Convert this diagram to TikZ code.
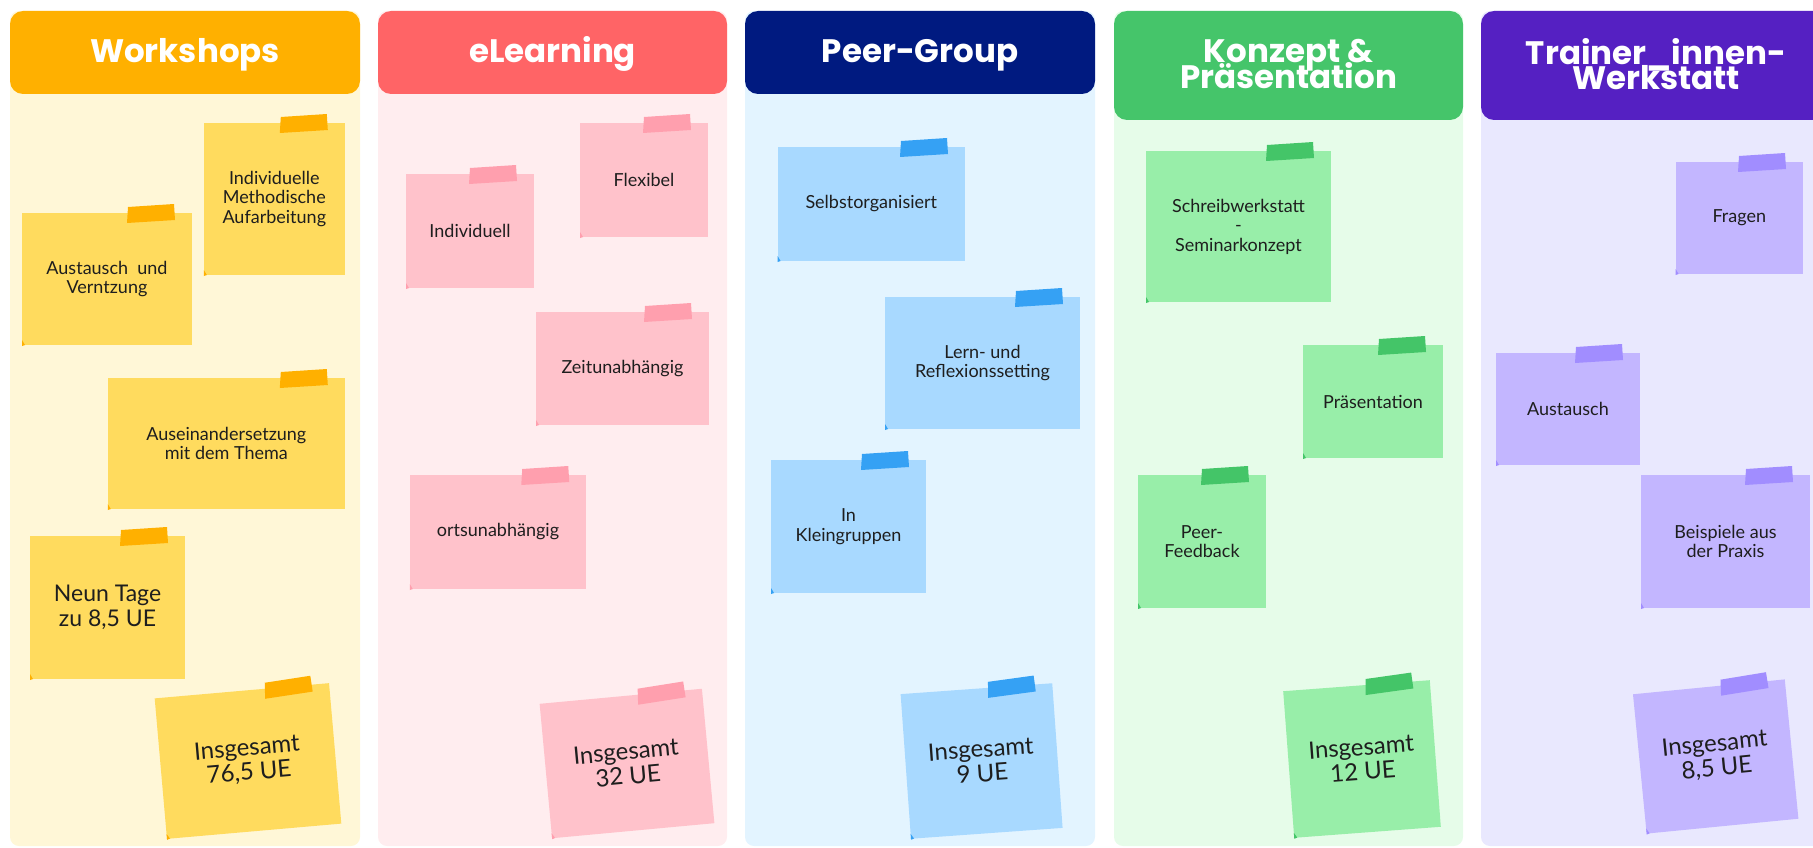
\documentclass[tikz,border=0pt]{standalone}
\usepackage{fontspec}
\setmainfont{Lato}
\newfontfamily\headfamily{Poppins}
\usepackage{tikz}
\lineskiplimit=-100pt

\definecolor{notetext}{HTML}{1E1E1E}
\definecolor{yellowhead}{HTML}{FFB000}
\definecolor{yellowbody}{HTML}{FFF7D7}
\definecolor{yellownote}{HTML}{FFDB5E}
\definecolor{yellowtape}{HTML}{FFB000}
\definecolor{pinkhead}{HTML}{FF6466}
\definecolor{pinkbody}{HTML}{FFEDEF}
\definecolor{pinknote}{HTML}{FFC2CB}
\definecolor{pinktape}{HTML}{FF9FAE}
\definecolor{bluehead}{HTML}{001A80}
\definecolor{bluebody}{HTML}{E3F4FF}
\definecolor{bluenote}{HTML}{A8D9FF}
\definecolor{bluetape}{HTML}{35A1F4}
\definecolor{greenhead}{HTML}{45C56A}
\definecolor{greenbody}{HTML}{E6FCE9}
\definecolor{greennote}{HTML}{98EEA9}
\definecolor{greentape}{HTML}{44C568}
\definecolor{violethead}{HTML}{5520C2}
\definecolor{violetbody}{HTML}{E9E8FE}
\definecolor{violetnote}{HTML}{C3B6FF}
\definecolor{violettape}{HTML}{A18DFF}

\tikzset{
  colbody/.style={rounded corners=9pt},
  colhead/.style={rounded corners=13pt},
  headtext/.style={text=white, align=center, font=\headfamily\bfseries\fontsize{32.5}{25.6}\selectfont},
  postit/.style={inner sep=0pt, align=center, text=notetext, font=\fontsize{18}{19.5}\selectfont},
  bignote/.style={font=\fontsize{23}{24.5}\selectfont},
  sumnote/.style={font=\fontsize{24}{24.5}\selectfont},
}

% name, cx, cy, width, height, angle, colour, extra style, text
\newcommand{\stickynote}[9]{%
  \begin{scope}[shift={(#2,#3)}, rotate=#6]
    \fill[#7note] ({-#4/2},{-#5/2}) rectangle ({#4/2},{#5/2});
    \fill[#7tape] ({#4/2-64},{-#5/2-6}) -- ({#4/2-18},{-#5/2-9}) -- ({#4/2-17},{-#5/2+7}) -- ({#4/2-65},{-#5/2+10}) -- cycle;
    \fill[#7tape] ({-#4/2},{#5/2-5}) -- ({-#4/2+3},{#5/2}) -- ({-#4/2},{#5/2+1}) -- cycle;
  \end{scope}
  \node[postit, #8, rotate=#6] (#1) at (#2,#3) {#9};
}

\begin{document}
\begin{tikzpicture}[x=1pt, y=-1pt]
  \useasboundingbox (0,0) rectangle (1813,848);
  \clip (0,0) rectangle (1813,848);

  % columns
  \fill[colbody, yellowbody] (10,11) rectangle (360,846);
  \fill[colhead, yellowhead] (10,11) rectangle (360,94);
  \node[headtext, anchor=base] (workshops) at (185,63) {Workshops};

  \fill[colbody, pinkbody] (378,11) rectangle (727,846);
  \fill[colhead, pinkhead] (378,11) rectangle (727,94);
  \node[headtext, anchor=base] (elearning) at (552.5,63) {eLearning};

  \fill[colbody, bluebody] (745,11) rectangle (1095,846);
  \fill[colhead, bluehead] (745,11) rectangle (1095,94);
  \node[headtext, anchor=base] (peergroup) at (920,63) {Peer-Group};

  \fill[colbody, greenbody] (1114,11) rectangle (1463,846);
  \fill[colhead, greenhead] (1114,11) rectangle (1463,120);
  \node[headtext] (konzept) at (1288.5,64) {Konzept \&\\Präsentation};

  \fill[colbody, violetbody] (1481,11) rectangle (1831,846);
  \fill[colhead, violethead] (1481,11) rectangle (1831,120);
  \node[headtext] (werkstatt) at (1656,64) {Trainer\_innen-\\Werkstatt};

  % Workshops
  \stickynote{methodik}{274.3}{199}{141}{152}{0}{yellow}{}{Individuelle\\Methodische\\Aufarbeitung}
  \stickynote{vernetzung}{107}{279}{170}{132}{0}{yellow}{}{Austausch~~und\\Verntzung}
  \stickynote{thema}{226.3}{443.5}{237}{131}{0}{yellow}{}{Auseinandersetzung\\mit dem Thema}
  \stickynote{tage}{107.5}{607.5}{155}{143}{0}{yellow}{bignote}{Neun Tage\\zu 8,5 UE}
  \stickynote{sumwork}{248}{761}{175}{141}{5}{yellow}{sumnote}{Insgesamt\\76,5 UE}

  % eLearning
  \stickynote{individuell}{470}{231}{128}{114}{0}{pink}{}{Individuell}
  \stickynote{flexibel}{644}{180}{128}{114}{0}{pink}{}{Flexibel}
  \stickynote{zeit}{622.5}{368.5}{173}{113}{0}{pink}{}{Zeitunabhängig}
  \stickynote{ort}{498}{532}{176.5}{114}{0}{pink}{}{ortsunabhängig}
  \stickynote{sumlearn}{627}{763.5}{163}{135}{5.3}{pink}{sumnote}{Insgesamt\\32 UE}

  % Peer-Group
  \stickynote{selbst}{871.3}{204}{187.4}{114}{0}{blue}{}{Selbstorganisiert}
  \stickynote{setting}{982.5}{363}{195}{132}{0}{blue}{}{Lern- und\\Reflexionssetting}
  \stickynote{klein}{848.5}{526.5}{155}{133}{0}{blue}{}{In\\Kleingruppen}
  \stickynote{sumpeer}{981.6}{761}{152}{145}{4.1}{blue}{sumnote}{Insgesamt\\9 UE}

  % Konzept & Praesentation
  \stickynote{schreib}{1238.5}{226.5}{185}{151}{0}{green}{}{Schreibwerkstatt\\-\\Seminarkonzept}
  \stickynote{praes}{1373}{401.5}{140}{113}{0}{green}{}{Präsentation}
  \stickynote{feedback}{1202}{541.5}{128}{133}{0}{green}{}{Peer-\\Feedback}
  \stickynote{sumkonzept}{1362}{759}{147}{147}{4.3}{green}{sumnote}{Insgesamt\\12 UE}

  % Trainer_innen-Werkstatt
  \stickynote{fragen}{1739.3}{218}{127.4}{112}{0}{violet}{}{Fragen}
  \stickynote{austausch}{1568}{409}{144}{112}{0}{violet}{}{Austausch}
  \stickynote{praxis}{1725.5}{541.5}{169}{133}{0}{violet}{}{Beispiele aus\\der Praxis}
  \stickynote{sumtrainer}{1715.7}{756.5}{152.5}{140}{5.6}{violet}{sumnote}{Insgesamt\\8,5 UE}
\end{tikzpicture}
\end{document}
